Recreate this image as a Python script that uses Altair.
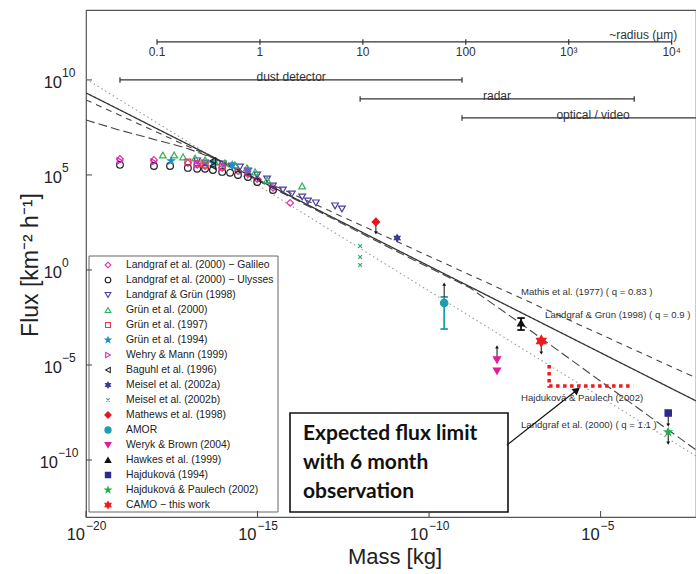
import math
import altair as alt
import pandas as pd

FONT = "Liberation Sans, Arial, sans-serif"
GRAY = "#444444"

# ---------------- frame (decades) ----------------
X_DOMAIN_LOG = [-20.0, -2.22]
Y_DOMAIN_LOG = [-13.0, 13.68]
PLOT_W, PLOT_H = 610, 507

x_ticks_log = [-20, -15, -10, -5]
y_ticks_log = [10, 5, 0, -5, -10]

# ---------------- model lines (log10 mass, log10 flux) ----------------
solid_lm = [-20.0, -2.22]
solid_lf = [9.32, -6.89]
mathis_lm = [-20.0, -2.22]
mathis_lf = [8.95, -5.68]
dotted_lm = [-20.0, -2.22]
dotted_lf = [10.05, -9.79]
l2000_lm = [-20.0, -19.04, -17.08, -16.30, -13.76, -10.85, -8.80, -7.35, -5.01, -2.22]
l2000_lf = [7.89, 7.37, 6.42, 5.89, 3.58, 0.89, -0.95, -2.79, -5.84, -9.47]

line_labels = ["Mathis et al. (1977) ( q = 0.83 )", "Landgraf & Grün (1998) ( q = 0.9 )",
               "Hajduková & Paulech (2002)", "Landgraf et al. (2000) ( q = 1.1 )"]
line_label_lm = [-7.32, -6.62, -7.32, -7.32]
line_label_lf = [-1.16, -2.37, -6.74, -8.16]

# ---------------- measurements ----------------
galileo_lm = [-19.01, -18.02, -17.03, -16.76, -16.53, -16.03, -15.57, -15.28, -15.01, -14.55, -14.05]
galileo_lf = [5.84, 5.79, 5.63, 5.53, 5.47, 5.37, 5.21, 5.05, 4.79, 4.32, 3.53]
ulysses_lm = [-19.01, -18.02, -17.55, -17.03, -16.76, -16.53, -16.30, -16.03, -15.80, -15.57, -15.28, -15.01, -14.55]
ulysses_lf = [5.53, 5.47, 5.47, 5.37, 5.32, 5.32, 5.26, 5.16, 5.11, 5.00, 4.89, 4.63, 4.21]
lg98_lm = [-16.76, -16.53, -16.01, -15.74, -15.51, -15.28, -15.01, -14.72, -14.55, -14.26, -14.00, -13.70, -13.53, -13.30, -12.74, -12.54]
lg98_lf = [5.74, 5.63, 5.58, 5.47, 5.42, 5.21, 5.00, 4.79, 4.42, 4.21, 4.00, 3.84, 3.63, 3.53, 3.37, 3.21]
gr2000_lm = [-17.76, -17.43, -17.17, -16.82, -16.53, -16.24, -15.95, -15.66, -15.31, -15.07, -14.72, -13.70]
gr2000_lf = [6.05, 6.05, 5.95, 5.89, 5.79, 5.68, 5.63, 5.53, 5.37, 5.16, 4.74, 4.42]
gr1997_lm = [-17.03, -16.76, -16.53, -16.03]
gr1997_lf = [5.68, 5.58, 5.53, 5.42]
gr1994_lm = [-17.52, -16.30, -15.74, -15.28]
gr1994_lf = [5.74, 5.63, 5.53, 5.26]
wm_lm = [-19.01, -18.02, -16.76, -16.03, -15.28]
wm_lf = [5.74, 5.68, 5.58, 5.47, 5.21]
baguhl_lm = [-16.30, -16.30]
baguhl_lf = [5.74, 5.47]
meisela_lm = [-10.93]
meisela_lf = [1.68]
meiselb_lm = [-12.01, -12.01, -12.01]
meiselb_lf = [1.26, 0.68, 0.26]
mathews_lm = [-11.55]
mathews_lf = [2.53]
amor_lm = [-9.56]
amor_lf = [-1.74]
weryk_lm = [-8.02, -8.02]
weryk_lf = [-4.74, -5.32]
hawkes_lm = [-7.32]
hawkes_lf = [-2.79]
hajd94_lm = [-3.03]
hajd94_lf = [-7.53]
hp02_lm = [-3.03]
hp02_lf = [-8.53]
camo_lm = [-6.73]
camo_lf = [-3.74]

# limit arrows: mass, from, to (log10)
arrow_lm = [-11.55, -9.56, -8.02, -6.73, -3.03, -3.03]
arrow_from = [2.53, -1.42, -4.58, -3.74, -7.53, -8.53]
arrow_to = [1.95, -0.74, -4.05, -4.37, -8.16, -9.11]

# error bars: mass, low, high, colour
err_lm = [-9.56, -7.32]
err_lo = [-3.11, -3.16]
err_hi = [-1.42, -2.53]
err_col = ["#1C9DB0", "#111111"]

# expected flux limit (red dotted)
limit_lm = [-6.50, -6.50, -4.05]
limit_lf = [-5.00, -6.11, -6.11]

# detector ranges
det_names = ["dust detector", "radar", "optical / video"]
det_from = [-19.01, -12.01, -9.04]
det_to = [-9.04, -4.02, -2.22]
det_lf = [10.0, 9.0, 8.0]
det_label_lm = [-14.02, -8.02, -5.22]

# radius axis
radius_labels = ["0.1", "1", "10", "100", "10³", "10⁴"]
radius_um = [0.1, 1, 10, 100, 1e3, 1e4]
radius_lm0 = -17.93  # mass at 0.1 um
radius_lf = 12.0

STAR5 = "M0,-1L0.235,-0.324L0.951,-0.309L0.38,0.124L0.588,0.809L0,0.4L-0.588,0.809L-0.38,0.124L-0.951,-0.309L-0.235,-0.324Z"
STAR6 = "M0,-1L0.289,-0.5L0.866,-0.5L0.577,0L0.866,0.5L0.289,0.5L0,1L-0.289,0.5L-0.866,0.5L-0.577,0L-0.866,-0.5L-0.289,-0.5Z"
XMARK = "M-0.75,-0.75L0.75,0.75M-0.75,0.75L0.75,-0.75"
VBAR = "M0,-1L0,1"

series = [
    ("Landgraf et al. (2000) − Galileo", galileo_lm, galileo_lf, "diamond", "#E0309A", False, 45),
    ("Landgraf et al. (2000) − Ulysses", ulysses_lm, ulysses_lf, "circle", "#222222", False, 45),
    ("Landgraf & Grün (1998)", lg98_lm, lg98_lf, "triangle-down", "#4B3C9E", False, 45),
    ("Grün et al. (2000)", gr2000_lm, gr2000_lf, "triangle-up", "#2DB35A", False, 45),
    ("Grün et al. (1997)", gr1997_lm, gr1997_lf, "square", "#E03C50", False, 35),
    ("Grün et al. (1994)", gr1994_lm, gr1994_lf, STAR5, "#1E90C8", True, 45),
    ("Wehry & Mann (1999)", wm_lm, wm_lf, "triangle-right", "#D42AC0", False, 40),
    ("Baguhl et al. (1996)", baguhl_lm, baguhl_lf, "triangle-left", "#222222", False, 40),
    ("Meisel et al. (2002a)", meisela_lm, meisela_lf, STAR6, "#3A3A9A", True, 45),
    ("Meisel et al. (2002b)", meiselb_lm, meiselb_lf, XMARK, "#2EAA6E", False, 25),
    ("Mathews et al. (1998)", mathews_lm, mathews_lf, "diamond", "#E8141E", True, 55),
    ("AMOR", amor_lm, amor_lf, "circle", "#1C9DB0", True, 55),
    ("Weryk & Brown (2004)", weryk_lm, weryk_lf, "triangle-down", "#E6199A", True, 50),
    ("Hawkes et al. (1999)", hawkes_lm, hawkes_lf, "triangle-up", "#111111", True, 45),
    ("Hajduková (1994)", hajd94_lm, hajd94_lf, "square", "#2B2B8F", True, 40),
    ("Hajduková & Paulech (2002)", hp02_lm, hp02_lf, STAR5, "#22B050", True, 55),
    ("CAMO − this work", camo_lm, camo_lf, STAR6, "#F01818", True, 120),
]

# ---------------- scales ----------------
xscale = alt.Scale(type="log", domain=[10 ** X_DOMAIN_LOG[0], 10 ** X_DOMAIN_LOG[1]])
yscale = alt.Scale(type="log", domain=[10 ** Y_DOMAIN_LOG[0], 10 ** Y_DOMAIN_LOG[1]])


def X(field="m"):
    return alt.X(f"{field}:Q", scale=xscale, axis=None)


def Y(field="f"):
    return alt.Y(f"{field}:Q", scale=yscale, axis=None)


def p10(v):
    return [10 ** a for a in v]


layers = []

# model lines
for lm, lf, dash, col, w in [
    (dotted_lm, dotted_lf, [1.5, 3], "#9a9a9a", 1.1),
    (l2000_lm, l2000_lf, [9, 4], GRAY, 1.1),
    (mathis_lm, mathis_lf, [6, 5], GRAY, 1.1),
    (solid_lm, solid_lf, [1, 0], "#333333", 1.3),
]:
    d = pd.DataFrame({"m": p10(lm), "f": p10(lf)})
    layers.append(alt.Chart(d).mark_line(color=col, strokeWidth=w, strokeDash=dash, clip=True)
                  .encode(x=X(), y=Y()))

# detector ranges
det = pd.DataFrame({"name": det_names, "m": p10(det_from), "m2": p10(det_to),
                    "f": p10(det_lf), "ml": p10(det_label_lm)})
layers.append(alt.Chart(det).mark_rule(color="#333333", strokeWidth=1.3, clip=True)
              .encode(x=X(), x2="m2:Q", y=Y()))
ends = pd.DataFrame({"m": p10(det_from + det_to[:2]), "f": p10(det_lf + det_lf[:2])})
layers.append(alt.Chart(ends).mark_point(shape=VBAR, size=30, color="#333333", strokeWidth=1.2, opacity=1)
              .encode(x=X(), y=Y()))
layers.append(alt.Chart(det).mark_text(font=FONT, fontSize=12, color="#333333", baseline="alphabetic", dy=1)
              .encode(x=X("ml"), y=Y(), text="name:N"))

# radius axis
rad = pd.DataFrame({"lab": radius_labels,
                    "m": [10 ** (radius_lm0 + 3 * math.log10(r / 0.1)) for r in radius_um]})
rad["f"] = 10 ** radius_lf
layers.append(alt.Chart(pd.DataFrame({"m": [rad["m"].iloc[0]], "m2": [rad["m"].iloc[-1]], "f": [10 ** radius_lf]}))
              .mark_rule(color="#333333", strokeWidth=1.3).encode(x=X(), x2="m2:Q", y=Y()))
layers.append(alt.Chart(rad).mark_point(shape=VBAR, size=30, color="#333333", strokeWidth=1.2, opacity=1)
              .encode(x=X(), y=Y()))
layers.append(alt.Chart(rad).mark_text(font=FONT, fontSize=12, color="#333333", baseline="middle", dy=10)
              .encode(x=X(), y=Y(), text="lab:N"))
layers.append(alt.Chart(pd.DataFrame({"m": [10 ** -3.76], "f": [10 ** radius_lf], "t": ["~radius (µm)"]}))
              .mark_text(font=FONT, fontSize=12, color="#333333", baseline="alphabetic", dy=-3)
              .encode(x=X(), y=Y(), text="t:N"))

# red dotted expected limit
lim = pd.DataFrame({"m": p10(limit_lm), "f": p10(limit_lf), "o": [0, 1, 2]})
layers.append(alt.Chart(lim).mark_line(color="#EE1C1C", strokeWidth=3.5, strokeDash=[3.5, 3.5])
              .encode(x=X(), y=Y(), order="o:Q"))

# error bars
err = pd.DataFrame({"m": p10(err_lm), "f": p10(err_lo), "f2": p10(err_hi), "c": err_col})
layers.append(alt.Chart(err).mark_rule(strokeWidth=1.8)
              .encode(x=X(), y=Y(), y2="f2:Q", color=alt.Color("c:N", scale=None)))
caps = pd.DataFrame({"m": p10(err_lm + err_lm), "f": p10(err_lo + err_hi), "c": err_col + err_col})
layers.append(alt.Chart(caps).mark_point(shape="stroke", size=55, strokeWidth=1.8, opacity=1)
              .encode(x=X(), y=Y(), stroke=alt.Stroke("c:N", scale=None)))

# limit arrows
arr = pd.DataFrame({"m": p10(arrow_lm), "f": p10(arrow_from), "f2": p10(arrow_to),
                    "shape": ["triangle-down" if b < a else "triangle-up" for a, b in zip(arrow_from, arrow_to)]})
layers.append(alt.Chart(arr).mark_rule(color="#111111", strokeWidth=1)
              .encode(x=X(), y=Y(), y2="f2:Q"))
layers.append(alt.Chart(arr).mark_point(filled=True, color="#111111", size=14, opacity=1)
              .encode(x=X(), y=Y("f2"), shape=alt.Shape("shape:N", scale=None)))

# data points
rows = []
for name, lm, lf, shp, col, filled, size in series:
    for a, b in zip(lm, lf):
        rows.append({"name": name, "m": 10 ** a, "f": 10 ** b, "shape": shp, "stroke": col,
                     "fill": col if filled else "transparent", "size": size})
pts = pd.DataFrame(rows)
layers.append(alt.Chart(pts).mark_point(strokeWidth=1.2, opacity=1)
              .encode(x=X(), y=Y(), shape=alt.Shape("shape:N", scale=None),
                      stroke=alt.Stroke("stroke:N", scale=None), fill=alt.Fill("fill:N", scale=None),
                      size=alt.Size("size:Q", scale=None)))

# line annotations
ann = pd.DataFrame({"t": line_labels, "m": p10(line_label_lm), "f": p10(line_label_lf)})
layers.append(alt.Chart(ann).mark_text(font=FONT, fontSize=9.6, color="#333333", align="left", baseline="middle")
              .encode(x=X(), y=Y(), text="t:N"))

# legend (positions in pixels of the plot area)
leg = pd.DataFrame({
    "name": [s[0] for s in series],
    "shape": [s[3] for s in series],
    "stroke": [s[4] for s in series],
    "fill": [s[4] if s[5] else "transparent" for s in series],
    "size": [min(s[6], 70) * 0.7 for s in series],
})
leg["py"] = [255 + 15 * i for i in range(len(leg))]
layers.append(alt.Chart(pd.DataFrame({"a": [0]})).mark_rect(fill="white", stroke="#666666", strokeWidth=1)
              .encode(x=alt.value(3), x2=alt.value(192), y=alt.value(246), y2=alt.value(502)))
layers.append(alt.Chart(leg).mark_point(strokeWidth=1.1, opacity=1)
              .encode(x=alt.value(22), y=alt.Y("py:Q", scale=None), shape=alt.Shape("shape:N", scale=None),
                      stroke=alt.Stroke("stroke:N", scale=None), fill=alt.Fill("fill:N", scale=None),
                      size=alt.Size("size:Q", scale=None)))
layers.append(alt.Chart(leg).mark_text(font=FONT, fontSize=10.4, color="#222222", align="left", baseline="middle")
              .encode(x=alt.value(40), y=alt.Y("py:Q", scale=None), text="name:N"))

# callout box with arrow
box_lines = ["Expected flux limit", "with 6 month", "observation"]
layers.append(alt.Chart(pd.DataFrame({"a": [0]})).mark_rect(fill="white", stroke="#111111", strokeWidth=1.6)
              .encode(x=alt.value(204), x2=alt.value(422), y=alt.value(403), y2=alt.value(502)))
bl = pd.DataFrame({"t": box_lines, "py": [430, 459, 488]})
layers.append(alt.Chart(bl).mark_text(font="Lato, Liberation Sans", fontWeight="bold", fontSize=21,
                                      color="#111111", align="left", baseline="alphabetic")
              .encode(x=alt.value(217), y=alt.Y("py:Q", scale=None), text="t:N"))
call = pd.DataFrame({"m": [10 ** -7.73], "f": [10 ** -9.21], "m2": [10 ** -5.69], "f2": [10 ** -6.32]})
layers.append(alt.Chart(call).mark_rule(color="#111111", strokeWidth=1.2)
              .encode(x=X(), y=Y(), x2="m2:Q", y2="f2:Q"))
layers.append(alt.Chart(call).mark_point(shape="triangle-up", filled=True, color="#111111", size=70,
                                         angle=52, opacity=1)
              .encode(x=X("m2"), y=Y("f2")))

# axes: inward ticks and 10^n labels
xt = pd.DataFrame({"m": [10.0 ** v for v in x_ticks_log], "e": [str(v).replace("-", "−") for v in x_ticks_log]})
layers.append(alt.Chart(xt).mark_rule(color="#444444", strokeWidth=1)
              .encode(x=X(), y=alt.value(PLOT_H - 6), y2=alt.value(PLOT_H)))
layers.append(alt.Chart(xt).mark_text(font=FONT, fontSize=16.5, color="#222222", align="right", baseline="middle",
                                      dx=-1).encode(x=X(), y=alt.value(PLOT_H + 18), text=alt.value("10")))
layers.append(alt.Chart(xt).mark_text(font=FONT, fontSize=12, color="#222222", align="left", baseline="middle",
                                      dx=0).encode(x=X(), y=alt.value(PLOT_H + 9), text="e:N"))
yt = pd.DataFrame({"f": [10.0 ** v for v in y_ticks_log], "e": [str(v).replace("-", "−") for v in y_ticks_log]})
yt["bx"] = [-24 if len(str(v)) < 3 else -28 for v in y_ticks_log]
layers.append(alt.Chart(yt).mark_rule(color="#444444", strokeWidth=1)
              .encode(y=Y(), x=alt.value(0), x2=alt.value(6)))
layers.append(alt.Chart(yt).mark_text(font=FONT, fontSize=16.5, color="#222222", align="right", baseline="middle",
                                      dy=3).encode(y=Y(), x=alt.X("bx:Q", scale=None), text=alt.value("10")))
layers.append(alt.Chart(yt).mark_text(font=FONT, fontSize=12, color="#222222", align="left", baseline="middle",
                                      dy=-7).encode(y=Y(), x=alt.X("bx:Q", scale=None), text="e:N"))

# axis titles
layers.append(alt.Chart(pd.DataFrame({"t": ["Mass [kg]"]})).mark_text(font=FONT, fontSize=22, color="#222222")
              .encode(x=alt.value(309), y=alt.value(547), text="t:N"))
layers.append(alt.Chart(pd.DataFrame({"t": ["Flux [km⁻² h⁻¹]"]}))
              .mark_text(font=FONT, fontSize=23, color="#222222", angle=270)
              .encode(x=alt.value(-55), y=alt.value(255), text="t:N"))

chart = alt.layer(*layers).properties(
    width=PLOT_W, height=PLOT_H,
    autosize=alt.AutoSizeParams(type="none"),
    padding={"left": 86, "top": 10, "right": 0, "bottom": 57},
    background="white",
).configure_view(stroke="#555555", strokeWidth=1.2)

chart.save("out.html", embed_options={"renderer": "svg", "actions": False})
